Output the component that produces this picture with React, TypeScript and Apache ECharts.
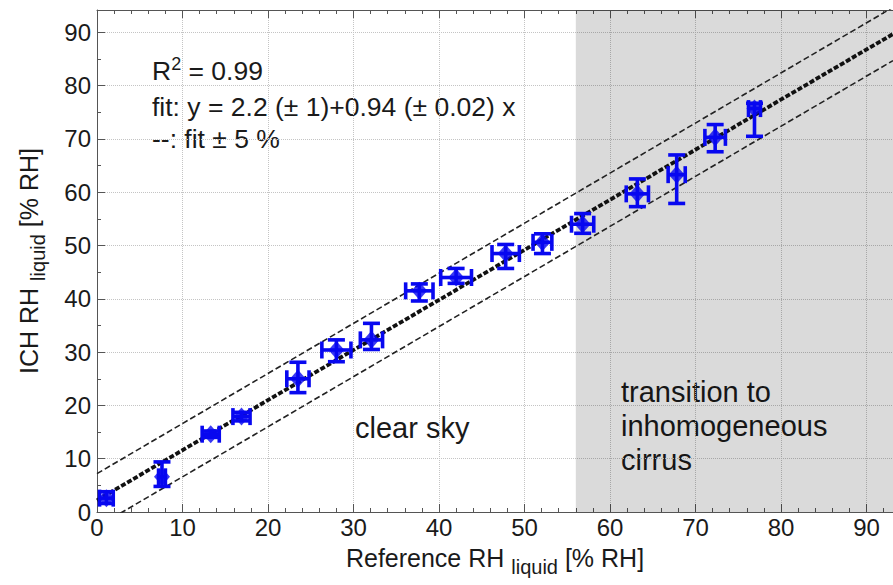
import React, { useEffect, useRef } from "react";
import * as echarts from "echarts";

// Measurement points (reference RH, ICH RH) with error bars
const refRH = [1.1, 7.6, 13.3, 16.9, 23.5, 28.0, 32.1, 37.7, 42.0, 47.8, 52.1, 56.8, 63.2, 67.8, 72.3, 76.9];
const ichRH = [2.6, 6.6, 14.6, 17.9, 25.0, 30.4, 32.3, 41.5, 44.0, 48.5, 50.6, 54.0, 59.7, 63.3, 70.3, 75.7];
const xErr = [0.8, 0.4, 1.0, 1.0, 1.3, 1.7, 1.3, 1.6, 1.8, 1.6, 1.1, 1.3, 1.3, 1.0, 1.2, 0.7];
const yErrLow = [1.0, 1.8, 0.6, 0.8, 2.6, 2.2, 1.8, 1.9, 1.1, 2.8, 2.1, 1.7, 2.4, 5.4, 2.7, 5.2];
const yErrHigh = [1.2, 2.8, 0.6, 0.8, 3.1, 1.9, 3.1, 1.3, 1.7, 1.7, 1.6, 2.0, 2.8, 3.7, 2.4, 1.0];

// Fit line and +/- 5 % bounds (end points)
const fitLine = [[0, 2.2], [93.1, 89.7]];
const fitUpper = [[0, 7.2], [93.1, 94.7]];
const fitLower = [[0, -2.8], [93.1, 84.7]];

// Shaded region (transition to inhomogeneous cirrus)
const shadeFrom = 56;

// Axis ranges
const xMax = 93.1;
const yMax = 94.2;

const BLUE = "#0808f0";
const FONT = "'Liberation Sans', Arial, Helvetica, sans-serif";

export default function App() {
  const ref = useRef<HTMLDivElement>(null);

  useEffect(() => {
    if (!ref.current) return;
    const chart = echarts.init(ref.current, undefined, { renderer: "svg" });

    const errData = refRH.map((x, i) => [
      x,
      ichRH[i],
      x - xErr[i],
      x + xErr[i],
      ichRH[i] - yErrLow[i],
      ichRH[i] + yErrHigh[i],
    ]);
    const pts = refRH.map((x, i) => [x, ichRH[i]]);

    const axisCommon = {
      min: 0,
      interval: 10,
      axisLine: { show: true, lineStyle: { color: "#555", width: 1 } },
      axisTick: { show: true, inside: true, length: 8, lineStyle: { color: "#555" } },
      minorTick: { show: true, length: 4, lineStyle: { color: "#555" } },
      splitLine: { show: true, lineStyle: { color: "#c4c4c4", type: "dotted", width: 1 } },
      axisLabel: { color: "#1a1a1a", fontSize: 24, fontFamily: FONT },
    };

    const nameRich = {
      a: { fontSize: 25, fontFamily: FONT, color: "#1a1a1a" },
      sub: { fontSize: 20, fontFamily: FONT, color: "#1a1a1a", padding: [18, 0, 0, 0] },
    };

    const option: any = {
      animation: false,
      backgroundColor: "#ffffff",
      grid: { left: 97, right: 0, top: 10, bottom: 73, containLabel: false },
      xAxis: [
        {
          ...axisCommon,
          type: "value",
          max: xMax,
          position: "bottom",
          minorTick: { ...axisCommon.minorTick, splitNumber: 5 },
          axisLabel: { ...axisCommon.axisLabel, margin: 3, showMaxLabel: false },
          name: "{a|Reference RH }{sub|liquid}{a| [% RH]}",
          nameLocation: "middle",
          nameGap: 27,
          nameTextStyle: { rich: nameRich },
        },
        {
          type: "value",
          min: 0,
          max: xMax,
          interval: 10,
          position: "top",
          axisLine: { show: true, lineStyle: { color: "#555", width: 1 } },
          axisTick: { show: true, inside: true, length: 8, lineStyle: { color: "#555" } },
          minorTick: { show: true, splitNumber: 5, length: 4, lineStyle: { color: "#555" } },
          splitLine: { show: false },
          axisLabel: { show: false },
        },
      ],
      yAxis: [
        {
          ...axisCommon,
          type: "value",
          max: yMax,
          minorTick: { ...axisCommon.minorTick, splitNumber: 2 },
          axisLabel: { ...axisCommon.axisLabel, margin: 6, showMaxLabel: false },
          name: "{a|ICH RH }{sub|liquid}{a| [% RH]}",
          nameLocation: "middle",
          nameGap: 49,
          nameTextStyle: { rich: nameRich },
        },
      ],
      series: [
        {
          type: "line",
          data: [],
          z: 1,
          silent: true,
          markArea: {
            silent: true,
            itemStyle: { color: "rgba(0,0,0,0.145)" },
            data: [[{ xAxis: shadeFrom }, { xAxis: xMax }]],
          },
        },
        {
          type: "line",
          data: fitUpper,
          symbol: "none",
          z: 2,
          lineStyle: { color: "#222", width: 1.6, type: [6, 3] },
        },
        {
          type: "line",
          data: fitLower,
          symbol: "none",
          z: 2,
          lineStyle: { color: "#222", width: 1.6, type: [6, 3] },
        },
        {
          type: "line",
          data: fitLine,
          symbol: "none",
          z: 2,
          lineStyle: { color: "#111", width: 3.8, type: [5, 2] },
        },
        {
          type: "custom",
          z: 3,
          data: errData,
          encode: { x: [0, 2, 3], y: [1, 4, 5] },
          renderItem: (params: any, api: any) => {
            const x = api.value(0);
            const y = api.value(1);
            const c = api.coord([x, y]);
            const xl = api.coord([api.value(2), y])[0];
            const xh = api.coord([api.value(3), y])[0];
            const yl = api.coord([x, api.value(4)])[1];
            const yh = api.coord([x, api.value(5)])[1];
            const cap = 8.5;
            const style = { stroke: BLUE, lineWidth: 3.6, fill: null };
            const ln = (x1: number, y1: number, x2: number, y2: number) => ({
              type: "line",
              shape: { x1, y1, x2, y2 },
              style,
            });
            return {
              type: "group",
              children: [
                ln(xl, c[1], xh, c[1]),
                ln(xl, c[1] - cap, xl, c[1] + cap),
                ln(xh, c[1] - cap, xh, c[1] + cap),
                ln(c[0], yl, c[0], yh),
                ln(c[0] - cap, yl, c[0] + cap, yl),
                ln(c[0] - cap, yh, c[0] + cap, yh),
              ],
            };
          },
        },
        {
          type: "scatter",
          z: 4,
          data: pts,
          symbol: "diamond",
          symbolSize: [16, 18],
          itemStyle: { color: BLUE },
        },
      ],
      graphic: [
        {
          type: "text",
          left: 152,
          top: 55,
          style: {
            text: "{a|R}{sup|2}{a| = 0.99}",
            rich: {
              a: { fontSize: 26.5, fontFamily: FONT, fill: "#1a1a1a" },
              sup: { fontSize: 18, fontFamily: FONT, fill: "#1a1a1a", padding: [0, 0, 13, 0] },
            },
          },
        },
        {
          type: "text",
          x: 152,
          y: 107,
          style: {
            text: "fit: y = 2.2 (± 1)+0.94 (± 0.02) x",
            font: `26.5px ${FONT}`,
            fill: "#1a1a1a",
            verticalAlign: "middle",
          },
        },
        {
          type: "text",
          x: 152,
          y: 139,
          style: {
            text: "--: fit ± 5 %",
            font: `26.5px ${FONT}`,
            fill: "#1a1a1a",
            verticalAlign: "middle",
          },
        },
        {
          type: "text",
          x: 355,
          y: 428,
          style: {
            text: "clear sky",
            font: `29px ${FONT}`,
            fill: "#1a1a1a",
            verticalAlign: "middle",
          },
        },
        {
          type: "text",
          x: 621,
          y: 426,
          style: {
            text: "transition to\ninhomogeneous\ncirrus",
            font: `29px ${FONT}`,
            lineHeight: 34,
            fill: "#1a1a1a",
            verticalAlign: "middle",
          },
        },
      ],
    };

    chart.setOption(option);
    return () => chart.dispose();
  }, []);

  return (
    <div
      ref={ref}
      style={{ position: "absolute", left: 0, top: 0, width: 893, height: 585 }}
    />
  );
}
